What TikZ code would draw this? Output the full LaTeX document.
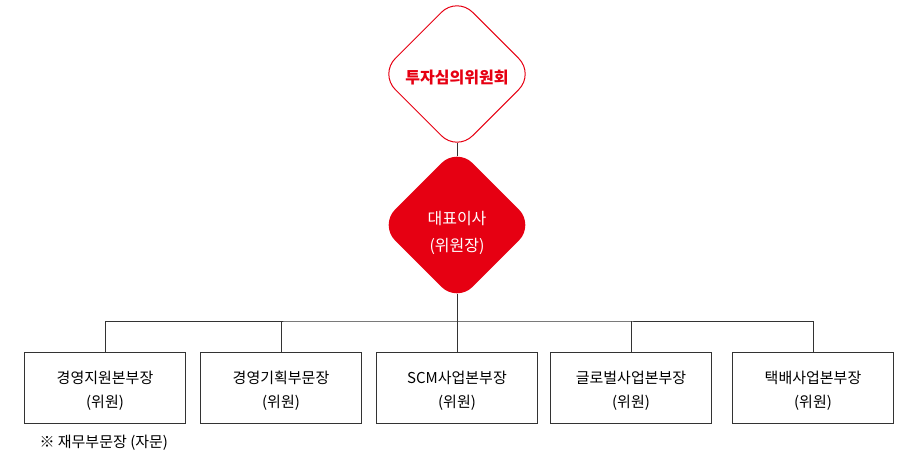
\documentclass[tikz,border=0pt]{standalone}
\usepackage{fontspec}
\setmainfont{Noto Sans CJK KR}
\usepackage{tikz}
\usetikzlibrary{shapes.geometric,positioning,calc}
\definecolor{orgred}{HTML}{E60012}
\definecolor{orgline}{HTML}{333333}

\begin{document}
\begin{tikzpicture}[
    x=1pt, y=-1pt,
    every node/.style={align=center, font=\fontsize{15}{24}\selectfont},
    rhombus/.style={diamond, aspect=1, minimum width=155pt, minimum height=155pt, rounded corners=22pt, inner sep=0pt},
    unitbox/.style={draw=orgline, line width=1pt, minimum width=161pt, minimum height=71pt, inner sep=0pt},
    link/.style={draw=orgline, line width=0.9pt}
]
    \useasboundingbox (0,0) rectangle (911,457);
    \node[rhombus, draw=orgred, line width=1pt, text=orgred, font=\fontsize{16}{24}\selectfont\bfseries] (council) at (457,74) {\rule{0pt}{21pt}투자심의위원회};
    \node[rhombus, fill=orgred, text=white, font=\fontsize{16}{27}\selectfont] (ceo) at (457,225) {\rule{0pt}{29pt}대표이사\\(위원장)};

    \node[unitbox] (mgmt) at (105,388) {\rule{0pt}{18pt}경영지원본부장\\(위원)};
    \node[unitbox] (plan) at (281,388) {\rule{0pt}{18pt}경영기획부문장\\(위원)};
    \node[unitbox] (scm) at (457,388) {\rule{0pt}{18pt}SCM사업본부장\\(위원)};
    \node[unitbox] (global) at (631,388) {\rule{0pt}{18pt}글로벌사업본부장\\(위원)};
    \node[unitbox] (parcel) at (813,388) {\rule{0pt}{18pt}택배사업본부장\\(위원)};

    \node[anchor=west, font=\fontsize{15}{18}\selectfont] (note) at (36,443) {※ 재무부문장 (자문)};

    % rounded tips sit about 9pt inside the diamond anchors
    \coordinate (bus) at (457,321);
    \draw[link] ($(council.south)+(0,-9)$) -- ($(ceo.north)+(0,9)$);
    \draw[link] ($(ceo.south)+(0,-9)$) -- (bus);
    \draw[link] (mgmt.north) |- (bus) -| (parcel.north);
    \draw[link] (plan.north) -- (plan.north |- bus);
    \draw[link] (scm.north) -- (scm.north |- bus);
    \draw[link] (global.north) -- (global.north |- bus);
\end{tikzpicture}
\end{document}
